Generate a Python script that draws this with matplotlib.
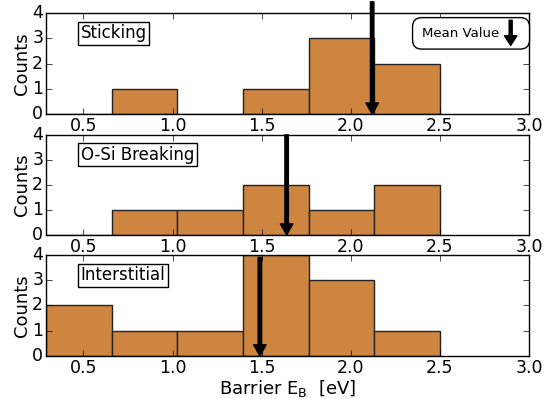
import numpy as np
import matplotlib
matplotlib.use('Agg')
import matplotlib.pyplot as plt

# ------- data
edges = [0.29, 0.6583, 1.0267, 1.395, 1.7633, 2.1317, 2.50]
labels = ['Sticking', 'O-Si Breaking', 'Interstitial']
sticking = [0, 1, 0, 1, 3, 2]
osi_breaking = [0, 1, 1, 2, 1, 2]
interstitial = [2, 1, 1, 4, 3, 1]
means = [2.12, 1.64, 1.49]
arrow_top = [4.45, 4.0, 3.9]

plt.style.use('classic')
plt.rcParams['font.size'] = 12
plt.rcParams['mathtext.fontset'] = 'dejavusans'

fig = plt.figure(figsize=(5.49, 3.99), dpi=100)
fig.patch.set_facecolor('white')

boxes = [[0.0838, 0.714, 0.8798, 0.253],
         [0.0838, 0.411, 0.8798, 0.251],
         [0.0838, 0.108, 0.8798, 0.253]]
counts_all = [sticking, osi_breaking, interstitial]

edges = np.array(edges)
widths = np.diff(edges)

for i in range(3):
    ax = fig.add_axes(boxes[i])
    ax.bar(edges[:-1], counts_all[i], width=widths, align='edge',
           color='peru', edgecolor='#222222', linewidth=1)
    ax.set_xlim(0.29, 3.0)
    ax.set_ylim(0, 4)
    ax.set_xticks([0.5, 1.0, 1.5, 2.0, 2.5, 3.0])
    ax.set_yticks([0, 1, 2, 3, 4])
    ax.set_ylabel('Counts', fontsize=13, labelpad=1)
    ax.tick_params(labelsize=12.5, pad=2)
    ax.text(0.072, 0.8, labels[i], transform=ax.transAxes, fontsize=12,
            va='center', ha='left',
            bbox=dict(boxstyle='square,pad=0.15', facecolor='white', edgecolor='black'))
    ax.annotate('', xy=(means[i], 0), xytext=(means[i], arrow_top[i]),
                arrowprops=dict(facecolor='black', edgecolor='black', width=2.5,
                                headwidth=9, headlength=8, shrink=0),
                annotation_clip=False)
    if i == 0:
        ax.text(0.778, 0.8, 'Mean Value     ', transform=ax.transAxes, fontsize=9.5,
                va='center', ha='left',
                bbox=dict(boxstyle='round,pad=0.7', facecolor='white', edgecolor='black'))
        ax.annotate('', xy=(0.962, 0.68), xytext=(0.962, 0.93), xycoords='axes fraction',
                    arrowprops=dict(facecolor='black', edgecolor='black', width=2.2,
                                    headwidth=9, headlength=7, shrink=0))
    if i == 2:
        ax.set_xlabel('Barrier E$_\\mathrm{B}$  [eV]', fontsize=13, labelpad=1)

plt.savefig('out.png', dpi=100)
